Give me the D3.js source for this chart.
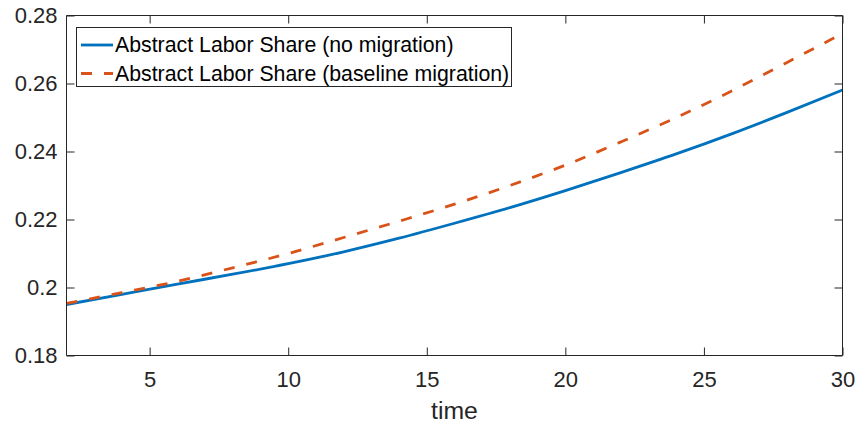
<!DOCTYPE html>
<html><head><meta charset="utf-8">
<script src="https://cdn.jsdelivr.net/npm/d3@7"></script>
<style>body{margin:0;background:#fff}svg{display:block;font-family:"Liberation Sans",Arial,sans-serif}</style>
</head><body><svg id="c" width="858" height="425"></svg>
<script>
const times = [2,4,6,8,10,12,14,16,18,20,22,24,26,28,30];
const noMigration = [0.1950,0.1980,0.2010,0.2039,0.2070,0.2105,0.2145,0.2189,0.2235,0.2285,0.2338,0.2393,0.2452,0.2515,0.2581];
const baselineMigration = [0.1953,0.1985,0.2018,0.2058,0.2100,0.2147,0.2195,0.2245,0.2300,0.2360,0.2428,0.2500,0.2578,0.2662,0.2747];
const xTicks = [5,10,15,20,25,30];
const yTicks = [0.18,0.2,0.22,0.24,0.26,0.28];
const seriesNames = ["Abstract Labor Share (no migration)","Abstract Labor Share (baseline migration)"];

const svg = d3.select("#c");
const L=66.5, R=842.5, T=15.5, B=355.5;
const x = d3.scaleLinear().domain([2,30]).range([L,R]);
const y = d3.scaleLinear().domain([0.18,0.28]).range([B,T]);
const axc = "#262626";

// lines
const line = d3.line().x(d=>x(d[0])).y(d=>y(d[1])).curve(d3.curveMonotoneX);
const series = [
  {vals: noMigration, color:"#0072BD", dash:null},
  {vals: baselineMigration, color:"#D95319", dash:"11,12"}
];
svg.append("clipPath").attr("id","cp").append("rect").attr("x",L).attr("y",T).attr("width",R-L).attr("height",B-T);
series.forEach(s=>{
  svg.append("path").datum(times.map((t,i)=>[t,s.vals[i]]))
    .attr("d",line).attr("fill","none").attr("stroke",s.color).attr("stroke-width",2.8)
    .attr("stroke-dasharray",s.dash).attr("clip-path","url(#cp)");
});

// axes (inward ticks, mirrored)
const g = svg.append("g");
const xb = d3.axisBottom(x).tickValues(xTicks).tickSize(-8).tickPadding(16).tickFormat(d3.format("d"));
const xt = d3.axisTop(x).tickValues(xTicks).tickSize(-8).tickFormat("");
const yl = d3.axisLeft(y).tickValues(yTicks).tickSize(-8).tickPadding(9).tickFormat(d=>d===0.2?"0.2":d3.format(".2f")(d));
const yr = d3.axisRight(y).tickValues(yTicks).tickSize(-8).tickFormat("");
function style(sel){
  sel.selectAll("path.domain").attr("stroke",axc).attr("stroke-width",1);
  sel.selectAll(".tick line").attr("stroke",axc).attr("stroke-width",1);
  sel.selectAll(".tick text").attr("fill","#262626").attr("font-size",22).attr("font-family","Liberation Sans, Arial, sans-serif");
}
g.append("g").attr("transform",`translate(0,${B})`).call(xb).call(style).call(s=>s.selectAll("path.domain").attr("d",`M${L},0H${R}`));
g.append("g").attr("transform",`translate(0,${T})`).call(xt).call(style).call(s=>s.selectAll("path.domain").attr("d",`M${L},0H${R}`));
g.append("g").attr("transform",`translate(${L},0)`).call(yl).call(style).call(s=>s.selectAll("path.domain").attr("d",`M0,${T}V${B}`));
g.append("g").attr("transform",`translate(${R},0)`).call(yr).call(style).call(s=>s.selectAll("path.domain").attr("d",`M0,${T}V${B}`));

svg.append("text").attr("x",(L+R)/2).attr("y",419).attr("text-anchor","middle")
  .attr("font-size",24.8).attr("fill","#262626").text("time");

// legend
const lg = svg.append("g");
lg.append("rect").attr("x",76.5).attr("y",27.5).attr("width",435).attr("height",59)
  .attr("fill","#fff").attr("stroke",axc).attr("stroke-width",1);
series.forEach((s,i)=>{
  const yy = 45 + i*28.5;
  lg.append("line").attr("x1",81).attr("x2",113).attr("y1",yy).attr("y2",yy)
    .attr("stroke",s.color).attr("stroke-width",2.8).attr("stroke-dasharray",s.dash);
  lg.append("text").attr("x",115).attr("y",yy).attr("dy","0.35em")
    .attr("font-size",21.3).attr("fill","#000").text(seriesNames[i]);
});
</script></body></html>
